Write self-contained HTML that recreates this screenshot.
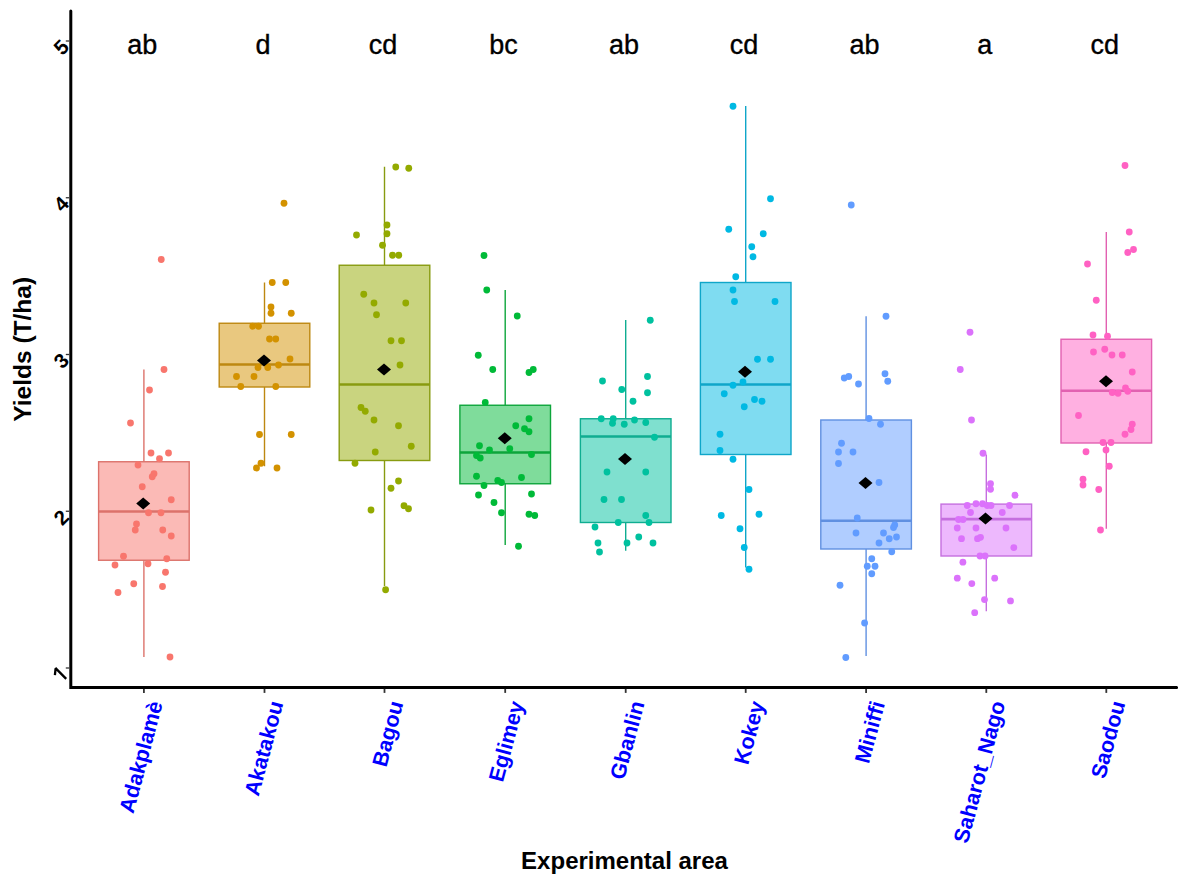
<!DOCTYPE html><html><head><meta charset="utf-8"><style>html,body{margin:0;padding:0;background:#fff;overflow:hidden;}svg{display:block;}text{font-family:"Liberation Sans",sans-serif;}</style></head><body>
<svg width="1181" height="880" viewBox="0 0 1181 880">
<rect x="0" y="0" width="1181" height="880" fill="#fff"/>
<line x1="143.9" y1="369.5" x2="143.9" y2="461.75" stroke="#dc726b" stroke-width="1.4"/>
<line x1="143.9" y1="560.25" x2="143.9" y2="657" stroke="#dc726b" stroke-width="1.4"/>
<rect x="98.60000000000001" y="461.75" width="90.6" height="98.5" fill="#F8766D" fill-opacity="0.5" stroke="#dc726b" stroke-width="1.4"/>
<line x1="98.60000000000001" y1="511.5" x2="189.2" y2="511.5" stroke="#dc726b" stroke-width="2.7"/>
<circle cx="161.25" cy="259.5" r="3.4" fill="#F8766D"/>
<circle cx="164" cy="369.5" r="3.4" fill="#F8766D"/>
<circle cx="149.5" cy="390" r="3.4" fill="#F8766D"/>
<circle cx="130.5" cy="423" r="3.4" fill="#F8766D"/>
<circle cx="151" cy="453" r="3.4" fill="#F8766D"/>
<circle cx="168.5" cy="453" r="3.4" fill="#F8766D"/>
<circle cx="159.5" cy="458.75" r="3.4" fill="#F8766D"/>
<circle cx="138" cy="465" r="3.4" fill="#F8766D"/>
<circle cx="154" cy="473.75" r="3.4" fill="#F8766D"/>
<circle cx="152.25" cy="476.75" r="3.4" fill="#F8766D"/>
<circle cx="142.25" cy="486.75" r="3.4" fill="#F8766D"/>
<circle cx="171.25" cy="499.75" r="3.4" fill="#F8766D"/>
<circle cx="148.5" cy="512.75" r="3.4" fill="#F8766D"/>
<circle cx="161" cy="512.75" r="3.4" fill="#F8766D"/>
<circle cx="136.5" cy="524" r="3.4" fill="#F8766D"/>
<circle cx="135.25" cy="530" r="3.4" fill="#F8766D"/>
<circle cx="162.75" cy="530" r="3.4" fill="#F8766D"/>
<circle cx="171.25" cy="536" r="3.4" fill="#F8766D"/>
<circle cx="123.5" cy="556.25" r="3.4" fill="#F8766D"/>
<circle cx="166.75" cy="558.75" r="3.4" fill="#F8766D"/>
<circle cx="115" cy="565" r="3.4" fill="#F8766D"/>
<circle cx="148" cy="563.75" r="3.4" fill="#F8766D"/>
<circle cx="165.5" cy="572.25" r="3.4" fill="#F8766D"/>
<circle cx="133.75" cy="583.75" r="3.4" fill="#F8766D"/>
<circle cx="162.5" cy="586.5" r="3.4" fill="#F8766D"/>
<circle cx="118" cy="592.5" r="3.4" fill="#F8766D"/>
<circle cx="170" cy="657" r="3.4" fill="#F8766D"/>
<line x1="264.5" y1="282.5" x2="264.5" y2="323.25" stroke="#bd8811" stroke-width="1.4"/>
<line x1="264.5" y1="387" x2="264.5" y2="466.25" stroke="#bd8811" stroke-width="1.4"/>
<rect x="219.2" y="323.25" width="90.6" height="63.75" fill="#D39200" fill-opacity="0.5" stroke="#bd8811" stroke-width="1.4"/>
<line x1="219.2" y1="364.5" x2="309.8" y2="364.5" stroke="#bd8811" stroke-width="2.7"/>
<circle cx="284" cy="203.25" r="3.4" fill="#D39200"/>
<circle cx="272.25" cy="282.5" r="3.4" fill="#D39200"/>
<circle cx="285.75" cy="282.5" r="3.4" fill="#D39200"/>
<circle cx="271" cy="307" r="3.4" fill="#D39200"/>
<circle cx="271" cy="313.25" r="3.4" fill="#D39200"/>
<circle cx="291.25" cy="313.25" r="3.4" fill="#D39200"/>
<circle cx="252.75" cy="326.25" r="3.4" fill="#D39200"/>
<circle cx="258.5" cy="326.25" r="3.4" fill="#D39200"/>
<circle cx="269.5" cy="339" r="3.4" fill="#D39200"/>
<circle cx="275.75" cy="339" r="3.4" fill="#D39200"/>
<circle cx="290" cy="359" r="3.4" fill="#D39200"/>
<circle cx="258" cy="367.5" r="3.4" fill="#D39200"/>
<circle cx="267.75" cy="367.5" r="3.4" fill="#D39200"/>
<circle cx="278.5" cy="365" r="3.4" fill="#D39200"/>
<circle cx="236.5" cy="376.5" r="3.4" fill="#D39200"/>
<circle cx="254" cy="376.5" r="3.4" fill="#D39200"/>
<circle cx="240.75" cy="386.5" r="3.4" fill="#D39200"/>
<circle cx="275.75" cy="386.5" r="3.4" fill="#D39200"/>
<circle cx="259.5" cy="434.5" r="3.4" fill="#D39200"/>
<circle cx="291.25" cy="434.5" r="3.4" fill="#D39200"/>
<circle cx="261" cy="463.25" r="3.4" fill="#D39200"/>
<circle cx="256.5" cy="468" r="3.4" fill="#D39200"/>
<circle cx="277" cy="468" r="3.4" fill="#D39200"/>
<line x1="384.5" y1="166.75" x2="384.5" y2="265.25" stroke="#889b10" stroke-width="1.4"/>
<line x1="384.5" y1="460.5" x2="384.5" y2="586" stroke="#889b10" stroke-width="1.4"/>
<rect x="339.2" y="265.25" width="90.6" height="195.25" fill="#93AA00" fill-opacity="0.5" stroke="#889b10" stroke-width="1.4"/>
<line x1="339.2" y1="384.5" x2="429.8" y2="384.5" stroke="#889b10" stroke-width="2.7"/>
<circle cx="395.75" cy="167" r="3.4" fill="#93AA00"/>
<circle cx="408.75" cy="168.25" r="3.4" fill="#93AA00"/>
<circle cx="387" cy="225" r="3.4" fill="#93AA00"/>
<circle cx="387" cy="233.75" r="3.4" fill="#93AA00"/>
<circle cx="356.5" cy="235" r="3.4" fill="#93AA00"/>
<circle cx="382.5" cy="245.25" r="3.4" fill="#93AA00"/>
<circle cx="392.5" cy="255.25" r="3.4" fill="#93AA00"/>
<circle cx="398.75" cy="255.25" r="3.4" fill="#93AA00"/>
<circle cx="363.75" cy="294.25" r="3.4" fill="#93AA00"/>
<circle cx="374" cy="303" r="3.4" fill="#93AA00"/>
<circle cx="405.75" cy="303" r="3.4" fill="#93AA00"/>
<circle cx="376.5" cy="314.75" r="3.4" fill="#93AA00"/>
<circle cx="391" cy="340.75" r="3.4" fill="#93AA00"/>
<circle cx="401.5" cy="340.75" r="3.4" fill="#93AA00"/>
<circle cx="400" cy="365" r="3.4" fill="#93AA00"/>
<circle cx="361" cy="407.5" r="3.4" fill="#93AA00"/>
<circle cx="365.25" cy="411.25" r="3.4" fill="#93AA00"/>
<circle cx="374" cy="420" r="3.4" fill="#93AA00"/>
<circle cx="398.5" cy="425.75" r="3.4" fill="#93AA00"/>
<circle cx="411.25" cy="446.25" r="3.4" fill="#93AA00"/>
<circle cx="375.25" cy="452" r="3.4" fill="#93AA00"/>
<circle cx="355" cy="463.25" r="3.4" fill="#93AA00"/>
<circle cx="398.5" cy="481" r="3.4" fill="#93AA00"/>
<circle cx="391" cy="488.25" r="3.4" fill="#93AA00"/>
<circle cx="371" cy="510" r="3.4" fill="#93AA00"/>
<circle cx="404" cy="505.75" r="3.4" fill="#93AA00"/>
<circle cx="408.5" cy="508.75" r="3.4" fill="#93AA00"/>
<circle cx="385.6" cy="589.75" r="3.4" fill="#93AA00"/>
<line x1="505.2" y1="290" x2="505.2" y2="405.25" stroke="#0da53b" stroke-width="1.4"/>
<line x1="505.2" y1="483.75" x2="505.2" y2="545" stroke="#0da53b" stroke-width="1.4"/>
<rect x="459.9" y="405.25" width="90.6" height="78.5" fill="#00BA38" fill-opacity="0.5" stroke="#0da53b" stroke-width="1.4"/>
<line x1="459.9" y1="452.5" x2="550.5" y2="452.5" stroke="#0da53b" stroke-width="2.7"/>
<circle cx="484" cy="255.5" r="3.4" fill="#00BA38"/>
<circle cx="486.75" cy="290" r="3.4" fill="#00BA38"/>
<circle cx="517.25" cy="316" r="3.4" fill="#00BA38"/>
<circle cx="478.25" cy="355.25" r="3.4" fill="#00BA38"/>
<circle cx="492.75" cy="369.5" r="3.4" fill="#00BA38"/>
<circle cx="529" cy="372.5" r="3.4" fill="#00BA38"/>
<circle cx="533.25" cy="369.5" r="3.4" fill="#00BA38"/>
<circle cx="485.25" cy="402.5" r="3.4" fill="#00BA38"/>
<circle cx="529" cy="418.75" r="3.4" fill="#00BA38"/>
<circle cx="515.75" cy="425.75" r="3.4" fill="#00BA38"/>
<circle cx="524.5" cy="428.75" r="3.4" fill="#00BA38"/>
<circle cx="529" cy="431.75" r="3.4" fill="#00BA38"/>
<circle cx="479.5" cy="445.75" r="3.4" fill="#00BA38"/>
<circle cx="489.5" cy="450" r="3.4" fill="#00BA38"/>
<circle cx="509.75" cy="448.75" r="3.4" fill="#00BA38"/>
<circle cx="476.5" cy="455.5" r="3.4" fill="#00BA38"/>
<circle cx="480.25" cy="458" r="3.4" fill="#00BA38"/>
<circle cx="531.5" cy="454.5" r="3.4" fill="#00BA38"/>
<circle cx="476.5" cy="476.25" r="3.4" fill="#00BA38"/>
<circle cx="484" cy="485.5" r="3.4" fill="#00BA38"/>
<circle cx="497.75" cy="480.5" r="3.4" fill="#00BA38"/>
<circle cx="501.5" cy="482.5" r="3.4" fill="#00BA38"/>
<circle cx="521.5" cy="477.5" r="3.4" fill="#00BA38"/>
<circle cx="478.5" cy="495" r="3.4" fill="#00BA38"/>
<circle cx="531.5" cy="494" r="3.4" fill="#00BA38"/>
<circle cx="494" cy="502.5" r="3.4" fill="#00BA38"/>
<circle cx="501.5" cy="512.75" r="3.4" fill="#00BA38"/>
<circle cx="529" cy="514.25" r="3.4" fill="#00BA38"/>
<circle cx="534.75" cy="515.5" r="3.4" fill="#00BA38"/>
<circle cx="518.5" cy="546.25" r="3.4" fill="#00BA38"/>
<line x1="625.7" y1="320" x2="625.7" y2="418.75" stroke="#0fad91" stroke-width="1.4"/>
<line x1="625.7" y1="522.5" x2="625.7" y2="550.75" stroke="#0fad91" stroke-width="1.4"/>
<rect x="580.4000000000001" y="418.75" width="90.6" height="103.75" fill="#00C19F" fill-opacity="0.5" stroke="#0fad91" stroke-width="1.4"/>
<line x1="580.4000000000001" y1="436.5" x2="671.0" y2="436.5" stroke="#0fad91" stroke-width="2.7"/>
<circle cx="650.25" cy="320.25" r="3.4" fill="#00C19F"/>
<circle cx="602.5" cy="381" r="3.4" fill="#00C19F"/>
<circle cx="647.5" cy="376.5" r="3.4" fill="#00C19F"/>
<circle cx="621.75" cy="389.5" r="3.4" fill="#00C19F"/>
<circle cx="647.5" cy="392.75" r="3.4" fill="#00C19F"/>
<circle cx="633" cy="401.25" r="3.4" fill="#00C19F"/>
<circle cx="601.25" cy="418.75" r="3.4" fill="#00C19F"/>
<circle cx="613.25" cy="418.75" r="3.4" fill="#00C19F"/>
<circle cx="612.5" cy="423.25" r="3.4" fill="#00C19F"/>
<circle cx="624.25" cy="424.25" r="3.4" fill="#00C19F"/>
<circle cx="634.5" cy="420" r="3.4" fill="#00C19F"/>
<circle cx="645.75" cy="422.5" r="3.4" fill="#00C19F"/>
<circle cx="654.5" cy="437.25" r="3.4" fill="#00C19F"/>
<circle cx="607" cy="472" r="3.4" fill="#00C19F"/>
<circle cx="645.75" cy="472" r="3.4" fill="#00C19F"/>
<circle cx="604" cy="499.5" r="3.4" fill="#00C19F"/>
<circle cx="621.5" cy="499.5" r="3.4" fill="#00C19F"/>
<circle cx="645.75" cy="515.5" r="3.4" fill="#00C19F"/>
<circle cx="618.25" cy="522.5" r="3.4" fill="#00C19F"/>
<circle cx="649" cy="522.5" r="3.4" fill="#00C19F"/>
<circle cx="595" cy="527" r="3.4" fill="#00C19F"/>
<circle cx="638.75" cy="537" r="3.4" fill="#00C19F"/>
<circle cx="598" cy="543" r="3.4" fill="#00C19F"/>
<circle cx="627" cy="543" r="3.4" fill="#00C19F"/>
<circle cx="653" cy="543" r="3.4" fill="#00C19F"/>
<circle cx="599.5" cy="552" r="3.4" fill="#00C19F"/>
<line x1="745.7" y1="106" x2="745.7" y2="282.5" stroke="#0fa6c9" stroke-width="1.4"/>
<line x1="745.7" y1="454.5" x2="745.7" y2="567.5" stroke="#0fa6c9" stroke-width="1.4"/>
<rect x="700.4000000000001" y="282.5" width="90.6" height="172.0" fill="#00B9E3" fill-opacity="0.5" stroke="#0fa6c9" stroke-width="1.4"/>
<line x1="700.4000000000001" y1="384.5" x2="791.0" y2="384.5" stroke="#0fa6c9" stroke-width="2.7"/>
<circle cx="733" cy="106.25" r="3.4" fill="#00B9E3"/>
<circle cx="770.5" cy="198.75" r="3.4" fill="#00B9E3"/>
<circle cx="728.75" cy="229.25" r="3.4" fill="#00B9E3"/>
<circle cx="763.25" cy="233.75" r="3.4" fill="#00B9E3"/>
<circle cx="751.75" cy="246.75" r="3.4" fill="#00B9E3"/>
<circle cx="753" cy="256.75" r="3.4" fill="#00B9E3"/>
<circle cx="735.75" cy="276.75" r="3.4" fill="#00B9E3"/>
<circle cx="733" cy="290" r="3.4" fill="#00B9E3"/>
<circle cx="734.5" cy="301.5" r="3.4" fill="#00B9E3"/>
<circle cx="775" cy="301.5" r="3.4" fill="#00B9E3"/>
<circle cx="757.5" cy="359.25" r="3.4" fill="#00B9E3"/>
<circle cx="770.5" cy="359.25" r="3.4" fill="#00B9E3"/>
<circle cx="743" cy="382" r="3.4" fill="#00B9E3"/>
<circle cx="733" cy="385.25" r="3.4" fill="#00B9E3"/>
<circle cx="724.25" cy="393.75" r="3.4" fill="#00B9E3"/>
<circle cx="754.5" cy="399.5" r="3.4" fill="#00B9E3"/>
<circle cx="762" cy="401.25" r="3.4" fill="#00B9E3"/>
<circle cx="744.25" cy="406.75" r="3.4" fill="#00B9E3"/>
<circle cx="720" cy="434.25" r="3.4" fill="#00B9E3"/>
<circle cx="720" cy="450.5" r="3.4" fill="#00B9E3"/>
<circle cx="733" cy="459.25" r="3.4" fill="#00B9E3"/>
<circle cx="749" cy="489.5" r="3.4" fill="#00B9E3"/>
<circle cx="721.25" cy="515.5" r="3.4" fill="#00B9E3"/>
<circle cx="759" cy="514.25" r="3.4" fill="#00B9E3"/>
<circle cx="740" cy="528.75" r="3.4" fill="#00B9E3"/>
<circle cx="744.25" cy="547.5" r="3.4" fill="#00B9E3"/>
<circle cx="749" cy="569.25" r="3.4" fill="#00B9E3"/>
<line x1="866.1" y1="316.25" x2="866.1" y2="420" stroke="#6090e1" stroke-width="1.4"/>
<line x1="866.1" y1="549" x2="866.1" y2="656.1" stroke="#6090e1" stroke-width="1.4"/>
<rect x="820.8000000000001" y="420" width="90.6" height="129" fill="#619CFF" fill-opacity="0.5" stroke="#6090e1" stroke-width="1.4"/>
<line x1="820.8000000000001" y1="520.75" x2="911.4" y2="520.75" stroke="#6090e1" stroke-width="2.7"/>
<circle cx="851.25" cy="205" r="3.4" fill="#619CFF"/>
<circle cx="886" cy="316.25" r="3.4" fill="#619CFF"/>
<circle cx="844.25" cy="378" r="3.4" fill="#619CFF"/>
<circle cx="848.75" cy="376.5" r="3.4" fill="#619CFF"/>
<circle cx="858.5" cy="384" r="3.4" fill="#619CFF"/>
<circle cx="885" cy="373.75" r="3.4" fill="#619CFF"/>
<circle cx="887.75" cy="381.25" r="3.4" fill="#619CFF"/>
<circle cx="869" cy="418.5" r="3.4" fill="#619CFF"/>
<circle cx="880.5" cy="424.25" r="3.4" fill="#619CFF"/>
<circle cx="841.5" cy="443.25" r="3.4" fill="#619CFF"/>
<circle cx="838.5" cy="452" r="3.4" fill="#619CFF"/>
<circle cx="853" cy="452" r="3.4" fill="#619CFF"/>
<circle cx="838.5" cy="463.5" r="3.4" fill="#619CFF"/>
<circle cx="879" cy="482.5" r="3.4" fill="#619CFF"/>
<circle cx="857.25" cy="518" r="3.4" fill="#619CFF"/>
<circle cx="856" cy="533" r="3.4" fill="#619CFF"/>
<circle cx="883.5" cy="533" r="3.4" fill="#619CFF"/>
<circle cx="894.75" cy="525" r="3.4" fill="#619CFF"/>
<circle cx="893.5" cy="527.5" r="3.4" fill="#619CFF"/>
<circle cx="889.25" cy="538.75" r="3.4" fill="#619CFF"/>
<circle cx="896.5" cy="537" r="3.4" fill="#619CFF"/>
<circle cx="879" cy="543" r="3.4" fill="#619CFF"/>
<circle cx="891.75" cy="551.75" r="3.4" fill="#619CFF"/>
<circle cx="871.75" cy="558.75" r="3.4" fill="#619CFF"/>
<circle cx="867.25" cy="566.25" r="3.4" fill="#619CFF"/>
<circle cx="875" cy="566.25" r="3.4" fill="#619CFF"/>
<circle cx="871.75" cy="573.75" r="3.4" fill="#619CFF"/>
<circle cx="840" cy="585.25" r="3.4" fill="#619CFF"/>
<circle cx="864.6" cy="623" r="3.4" fill="#619CFF"/>
<circle cx="845.8" cy="657.5" r="3.4" fill="#619CFF"/>
<line x1="986.3" y1="454.5" x2="986.3" y2="504.1" stroke="#c56fdf" stroke-width="1.4"/>
<line x1="986.3" y1="556" x2="986.3" y2="611.3" stroke="#c56fdf" stroke-width="1.4"/>
<rect x="941.0" y="504.1" width="90.6" height="51.89999999999998" fill="#DB72FB" fill-opacity="0.5" stroke="#c56fdf" stroke-width="1.4"/>
<line x1="941.0" y1="519.1" x2="1031.6" y2="519.1" stroke="#c56fdf" stroke-width="2.7"/>
<circle cx="970" cy="332.25" r="3.4" fill="#DB72FB"/>
<circle cx="960.25" cy="369.5" r="3.4" fill="#DB72FB"/>
<circle cx="971.5" cy="420" r="3.4" fill="#DB72FB"/>
<circle cx="983" cy="453.25" r="3.4" fill="#DB72FB"/>
<circle cx="990.5" cy="483.75" r="3.4" fill="#DB72FB"/>
<circle cx="990.5" cy="489.25" r="3.4" fill="#DB72FB"/>
<circle cx="1015" cy="495.25" r="3.4" fill="#DB72FB"/>
<circle cx="967.25" cy="505.5" r="3.4" fill="#DB72FB"/>
<circle cx="976" cy="503.75" r="3.4" fill="#DB72FB"/>
<circle cx="982.5" cy="503.75" r="3.4" fill="#DB72FB"/>
<circle cx="987.25" cy="505.5" r="3.4" fill="#DB72FB"/>
<circle cx="991" cy="505.5" r="3.4" fill="#DB72FB"/>
<circle cx="1009.5" cy="505.5" r="3.4" fill="#DB72FB"/>
<circle cx="970.5" cy="512.5" r="3.4" fill="#DB72FB"/>
<circle cx="1002.25" cy="512.5" r="3.4" fill="#DB72FB"/>
<circle cx="958.5" cy="519.5" r="3.4" fill="#DB72FB"/>
<circle cx="963" cy="519.5" r="3.4" fill="#DB72FB"/>
<circle cx="957.25" cy="528" r="3.4" fill="#DB72FB"/>
<circle cx="976" cy="528" r="3.4" fill="#DB72FB"/>
<circle cx="1006" cy="528" r="3.4" fill="#DB72FB"/>
<circle cx="961.5" cy="538.7" r="3.4" fill="#DB72FB"/>
<circle cx="977.5" cy="538.7" r="3.4" fill="#DB72FB"/>
<circle cx="980.5" cy="537.3" r="3.4" fill="#DB72FB"/>
<circle cx="1013.8" cy="547.6" r="3.4" fill="#DB72FB"/>
<circle cx="980" cy="556" r="3.4" fill="#DB72FB"/>
<circle cx="985.1" cy="556" r="3.4" fill="#DB72FB"/>
<circle cx="962.9" cy="562.2" r="3.4" fill="#DB72FB"/>
<circle cx="957.3" cy="578.2" r="3.4" fill="#DB72FB"/>
<circle cx="994.7" cy="578.2" r="3.4" fill="#DB72FB"/>
<circle cx="971.8" cy="583.6" r="3.4" fill="#DB72FB"/>
<circle cx="984.5" cy="599.6" r="3.4" fill="#DB72FB"/>
<circle cx="1010.5" cy="600.9" r="3.4" fill="#DB72FB"/>
<circle cx="974.7" cy="612.7" r="3.4" fill="#DB72FB"/>
<line x1="1106.3" y1="232" x2="1106.3" y2="339.25" stroke="#e261b1" stroke-width="1.4"/>
<line x1="1106.3" y1="443" x2="1106.3" y2="528.75" stroke="#e261b1" stroke-width="1.4"/>
<rect x="1061.0" y="339.25" width="90.6" height="103.75" fill="#FF61C3" fill-opacity="0.5" stroke="#e261b1" stroke-width="1.4"/>
<line x1="1061.0" y1="390.75" x2="1151.6" y2="390.75" stroke="#e261b1" stroke-width="2.7"/>
<circle cx="1125" cy="165.5" r="3.4" fill="#FF61C3"/>
<circle cx="1129.25" cy="232" r="3.4" fill="#FF61C3"/>
<circle cx="1127.75" cy="252.5" r="3.4" fill="#FF61C3"/>
<circle cx="1133.5" cy="249.5" r="3.4" fill="#FF61C3"/>
<circle cx="1087.5" cy="264" r="3.4" fill="#FF61C3"/>
<circle cx="1096.25" cy="300.25" r="3.4" fill="#FF61C3"/>
<circle cx="1093" cy="335" r="3.4" fill="#FF61C3"/>
<circle cx="1107.5" cy="336.25" r="3.4" fill="#FF61C3"/>
<circle cx="1093.5" cy="352" r="3.4" fill="#FF61C3"/>
<circle cx="1104.75" cy="349.25" r="3.4" fill="#FF61C3"/>
<circle cx="1112" cy="355" r="3.4" fill="#FF61C3"/>
<circle cx="1122.25" cy="355" r="3.4" fill="#FF61C3"/>
<circle cx="1132.25" cy="372" r="3.4" fill="#FF61C3"/>
<circle cx="1112.25" cy="392.5" r="3.4" fill="#FF61C3"/>
<circle cx="1118" cy="393.25" r="3.4" fill="#FF61C3"/>
<circle cx="1125.5" cy="388" r="3.4" fill="#FF61C3"/>
<circle cx="1127.75" cy="391.25" r="3.4" fill="#FF61C3"/>
<circle cx="1078.5" cy="415.5" r="3.4" fill="#FF61C3"/>
<circle cx="1132.25" cy="424.25" r="3.4" fill="#FF61C3"/>
<circle cx="1131" cy="429.5" r="3.4" fill="#FF61C3"/>
<circle cx="1125" cy="434.25" r="3.4" fill="#FF61C3"/>
<circle cx="1103" cy="442.5" r="3.4" fill="#FF61C3"/>
<circle cx="1111" cy="442.5" r="3.4" fill="#FF61C3"/>
<circle cx="1086" cy="451.75" r="3.4" fill="#FF61C3"/>
<circle cx="1106" cy="450" r="3.4" fill="#FF61C3"/>
<circle cx="1109.25" cy="466.25" r="3.4" fill="#FF61C3"/>
<circle cx="1083" cy="479.25" r="3.4" fill="#FF61C3"/>
<circle cx="1083" cy="485" r="3.4" fill="#FF61C3"/>
<circle cx="1098.75" cy="489.5" r="3.4" fill="#FF61C3"/>
<circle cx="1100.5" cy="530" r="3.4" fill="#FF61C3"/>
<path d="M143.2 497.5L150.2 503.5L143.2 509.5L136.2 503.5Z" fill="#000"/>
<path d="M264 354.5L271 360.5L264 366.5L257 360.5Z" fill="#000"/>
<path d="M384 363.5L391 369.5L384 375.5L377 369.5Z" fill="#000"/>
<path d="M504.75 432.25L511.75 438.25L504.75 444.25L497.75 438.25Z" fill="#000"/>
<path d="M625 453L632 459L625 465L618 459Z" fill="#000"/>
<path d="M745 365.75L752 371.75L745 377.75L738 371.75Z" fill="#000"/>
<path d="M865.5 477L872.5 483L865.5 489L858.5 483Z" fill="#000"/>
<path d="M985.5 512.5L992.5 518.5L985.5 524.5L978.5 518.5Z" fill="#000"/>
<path d="M1106 375.25L1113 381.25L1106 387.25L1099 381.25Z" fill="#000"/>
<path d="M70.8 11L70.8 687.4L1176.6 687.4" fill="none" stroke="#000" stroke-width="3" stroke-linejoin="miter" stroke-linecap="round"/>
<line x1="65.8" y1="41.0" x2="69.3" y2="41.0" stroke="#333" stroke-width="1.3"/>
<text x="0" y="7.38" font-size="20.5" font-weight="bold" fill="#000" text-anchor="middle" transform="translate(61 47.0) rotate(-45)">5</text>
<line x1="65.8" y1="197.75" x2="69.3" y2="197.75" stroke="#333" stroke-width="1.3"/>
<text x="0" y="7.38" font-size="20.5" font-weight="bold" fill="#000" text-anchor="middle" transform="translate(61 203.75) rotate(-45)">4</text>
<line x1="65.8" y1="354.5" x2="69.3" y2="354.5" stroke="#333" stroke-width="1.3"/>
<text x="0" y="7.38" font-size="20.5" font-weight="bold" fill="#000" text-anchor="middle" transform="translate(61 360.5) rotate(-45)">3</text>
<line x1="65.8" y1="511.25" x2="69.3" y2="511.25" stroke="#333" stroke-width="1.3"/>
<text x="0" y="7.38" font-size="20.5" font-weight="bold" fill="#000" text-anchor="middle" transform="translate(61 517.25) rotate(-45)">2</text>
<line x1="65.8" y1="668.0" x2="69.3" y2="668.0" stroke="#333" stroke-width="1.3"/>
<path d="M55.3 667.9L66.2 678.9M55.6 668.3L54.9 675.2" fill="none" stroke="#000" stroke-width="2.3" stroke-linecap="butt"/>
<line x1="143.9" y1="688.9" x2="143.9" y2="692.9" stroke="#333" stroke-width="1.8"/>
<text x="0" y="0" font-size="21.5" font-weight="bold" fill="#0000FF" stroke="#0000FF" stroke-width="0" text-anchor="end" transform="translate(162.9 703.4) rotate(-75)">Adakplamè</text>
<text x="142.3" y="54.0" font-size="27" fill="#000" stroke="#000" stroke-width="0.35" text-anchor="middle">ab</text>
<line x1="264.5" y1="688.9" x2="264.5" y2="692.9" stroke="#333" stroke-width="1.8"/>
<text x="0" y="0" font-size="21.5" font-weight="bold" fill="#0000FF" stroke="#0000FF" stroke-width="0" text-anchor="end" transform="translate(283.5 703.4) rotate(-75)">Akatakou</text>
<text x="262.9" y="54.0" font-size="27" fill="#000" stroke="#000" stroke-width="0.35" text-anchor="middle">d</text>
<line x1="384.5" y1="688.9" x2="384.5" y2="692.9" stroke="#333" stroke-width="1.8"/>
<text x="0" y="0" font-size="21.5" font-weight="bold" fill="#0000FF" stroke="#0000FF" stroke-width="0" text-anchor="end" transform="translate(403.5 703.4) rotate(-75)">Bagou</text>
<text x="382.9" y="54.0" font-size="27" fill="#000" stroke="#000" stroke-width="0.35" text-anchor="middle">cd</text>
<line x1="505.2" y1="688.9" x2="505.2" y2="692.9" stroke="#333" stroke-width="1.8"/>
<text x="0" y="0" font-size="21.5" font-weight="bold" fill="#0000FF" stroke="#0000FF" stroke-width="0" text-anchor="end" transform="translate(524.2 703.4) rotate(-75)">Eglimey</text>
<text x="503.59999999999997" y="54.0" font-size="27" fill="#000" stroke="#000" stroke-width="0.35" text-anchor="middle">bc</text>
<line x1="625.7" y1="688.9" x2="625.7" y2="692.9" stroke="#333" stroke-width="1.8"/>
<text x="0" y="0" font-size="21.5" font-weight="bold" fill="#0000FF" stroke="#0000FF" stroke-width="0" text-anchor="end" transform="translate(644.7 703.4) rotate(-75)">Gbanlin</text>
<text x="624.1" y="54.0" font-size="27" fill="#000" stroke="#000" stroke-width="0.35" text-anchor="middle">ab</text>
<line x1="745.7" y1="688.9" x2="745.7" y2="692.9" stroke="#333" stroke-width="1.8"/>
<text x="0" y="0" font-size="21.5" font-weight="bold" fill="#0000FF" stroke="#0000FF" stroke-width="0" text-anchor="end" transform="translate(764.7 703.4) rotate(-75)">Kokey</text>
<text x="744.1" y="54.0" font-size="27" fill="#000" stroke="#000" stroke-width="0.35" text-anchor="middle">cd</text>
<line x1="866.1" y1="688.9" x2="866.1" y2="692.9" stroke="#333" stroke-width="1.8"/>
<text x="0" y="0" font-size="21.5" font-weight="bold" fill="#0000FF" stroke="#0000FF" stroke-width="0" text-anchor="end" transform="translate(885.1 703.4) rotate(-75)">Miniffi</text>
<text x="864.5" y="54.0" font-size="27" fill="#000" stroke="#000" stroke-width="0.35" text-anchor="middle">ab</text>
<line x1="986.3" y1="688.9" x2="986.3" y2="692.9" stroke="#333" stroke-width="1.8"/>
<text x="0" y="0" font-size="21.5" font-weight="bold" fill="#0000FF" stroke="#0000FF" stroke-width="0" text-anchor="end" transform="translate(1005.3 703.4) rotate(-75)">Saharot_Nago</text>
<text x="984.6999999999999" y="54.0" font-size="27" fill="#000" stroke="#000" stroke-width="0.35" text-anchor="middle">a</text>
<line x1="1106.3" y1="688.9" x2="1106.3" y2="692.9" stroke="#333" stroke-width="1.8"/>
<text x="0" y="0" font-size="21.5" font-weight="bold" fill="#0000FF" stroke="#0000FF" stroke-width="0" text-anchor="end" transform="translate(1125.3 703.4) rotate(-75)">Saodou</text>
<text x="1104.7" y="54.0" font-size="27" fill="#000" stroke="#000" stroke-width="0.35" text-anchor="middle">cd</text>
<text x="0" y="0" font-size="24.5" font-weight="bold" fill="#000" text-anchor="middle" transform="translate(30.5 349.3) rotate(-90)">Yields (T/ha)</text>
<text x="624.5" y="868.5" font-size="24" font-weight="bold" fill="#000" text-anchor="middle">Experimental area</text>
</svg></body></html>
